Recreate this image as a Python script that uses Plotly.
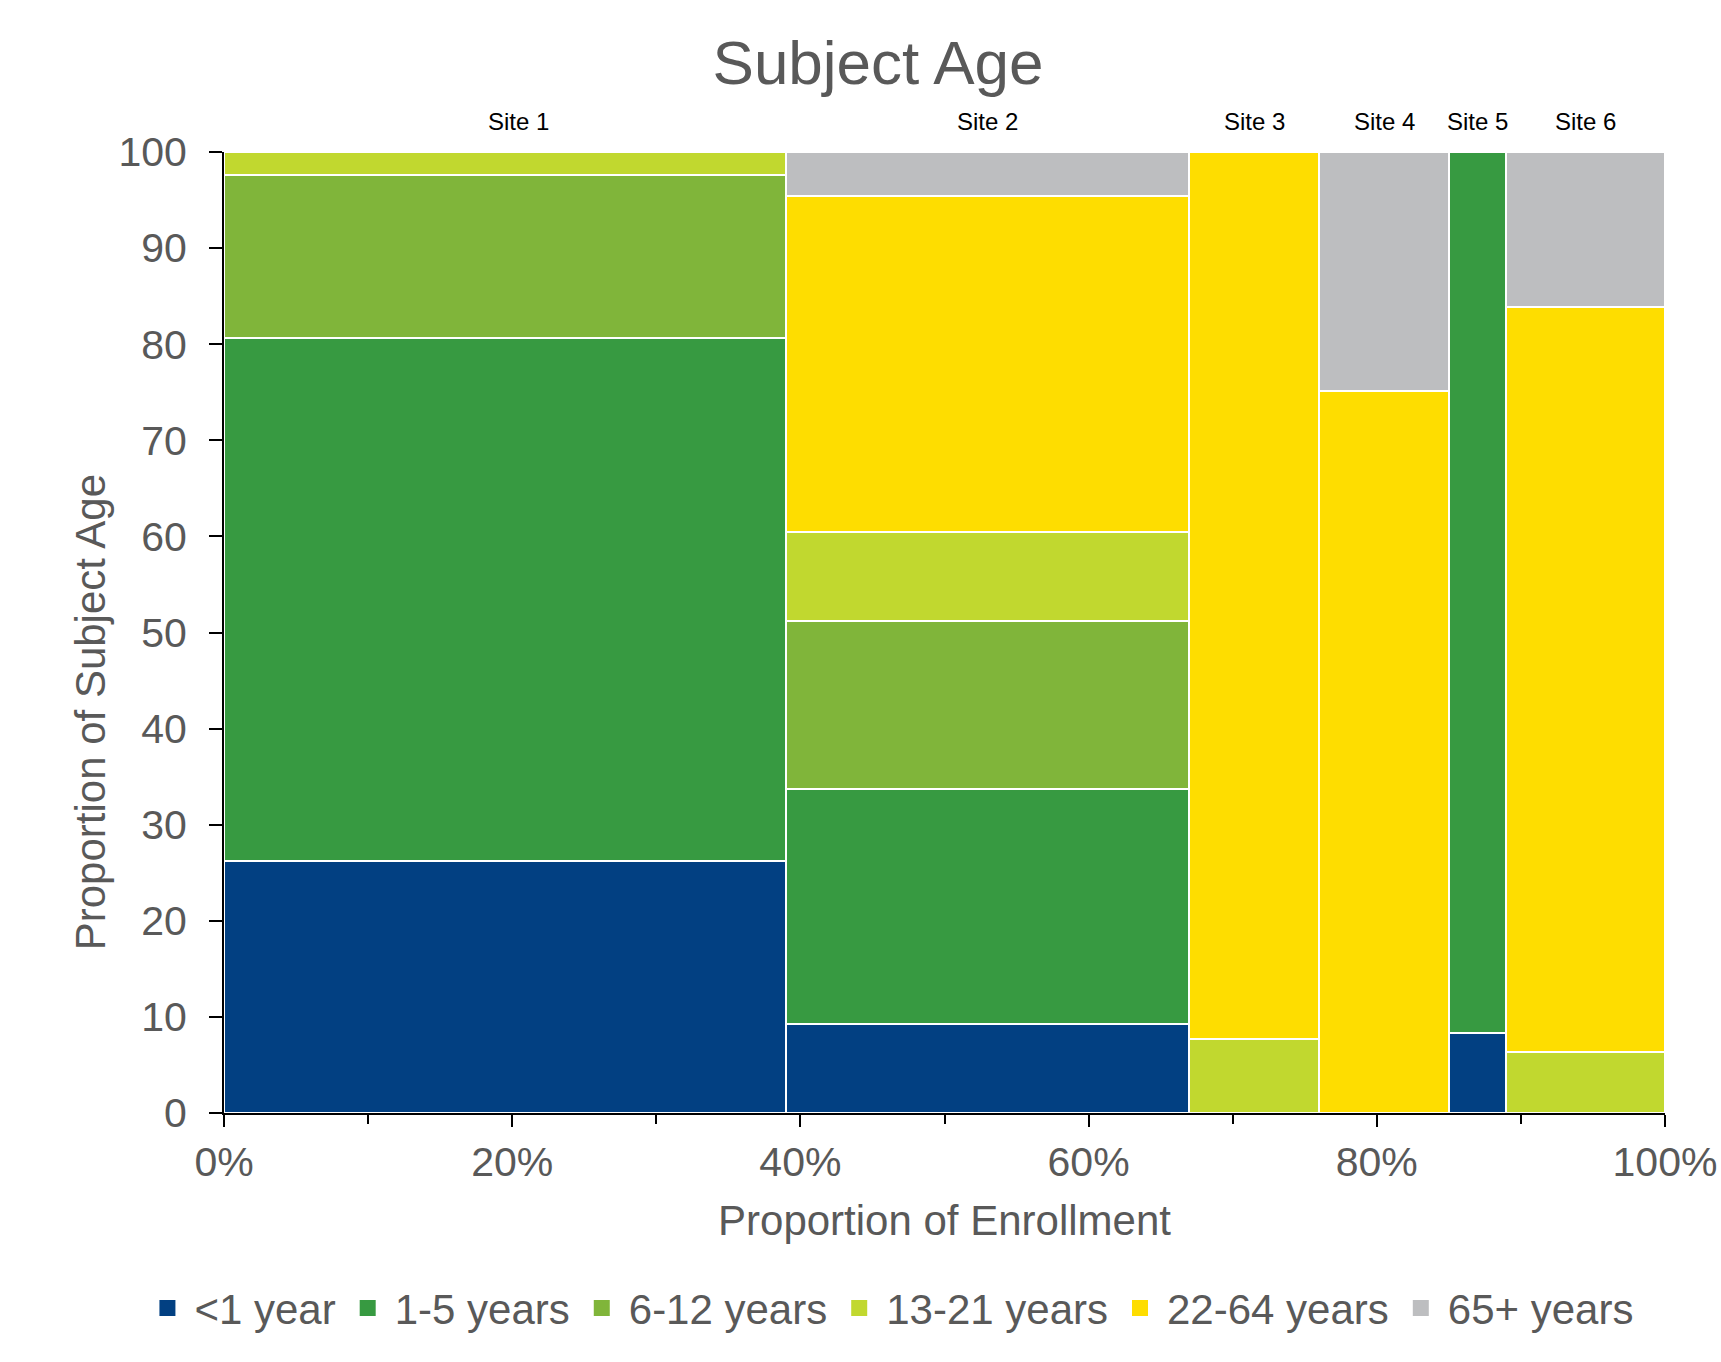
import plotly.graph_objects as go
import numpy as np

sites = ["Site 1", "Site 2", "Site 3", "Site 4", "Site 5", "Site 6"]
enrollment_pct = [39, 28, 9, 9, 4, 11]

age_groups = ["<1 year", "1-5 years", "6-12 years", "13-21 years", "22-64 years", "65+ years"]
lt1 = [26.2, 9.3, 0, 0, 8.3, 0]
y1_5 = [54.4, 24.4, 0, 0, 91.7, 0]
y6_12 = [17.0, 17.5, 0, 0, 0, 0]
y13_21 = [2.4, 9.3, 7.7, 0, 0, 6.4]
y22_64 = [0, 34.9, 92.3, 75.1, 0, 77.5]
y65p = [0, 4.6, 0, 24.9, 0, 16.1]
series = [lt1, y1_5, y6_12, y13_21, y22_64, y65p]
colors = ["#024082", "#379A41", "#80B53A", "#C1D82F", "#FEDD00", "#BDBEC0"]

x_ticks = [0, 20, 40, 60, 80, 100]
y_ticks = list(range(0, 101, 10))

widths = np.array(enrollment_pct, dtype=float)
right = np.cumsum(widths)
centers = right - widths / 2

FONT = "Liberation Sans, Arial, sans-serif"
GRAY = "#595959"
LABEL_XSHIFT = {"Site 1": 13}

fig = go.Figure()
for name, vals, col in zip(age_groups, series, colors):
    fig.add_trace(go.Bar(
        x=centers, y=vals, width=widths, name=name, legendgroup=name, showlegend=False,
        marker=dict(color=col, line=dict(color="white", width=2)),
    ))
# legend entries with larger square swatches
for name, col in zip(age_groups, colors):
    fig.add_trace(go.Scatter(
        x=[None], y=[None], mode="markers", name=name, legendgroup=name,
        marker=dict(symbol="square", size=18, color=col),
    ))

for s, c in zip(sites, centers):
    fig.add_annotation(x=c, y=1, xref="x", yref="paper", text=s, showarrow=False,
                       yanchor="middle", yshift=31, xshift=LABEL_XSHIFT.get(s, 0),
                       font=dict(family=FONT, size=24, color="black"))

fig.add_annotation(x=-0.093, y=0.417, xref="paper", yref="paper",
                   text="Proportion of Subject Age", textangle=-90, showarrow=False,
                   xanchor="center", yanchor="middle",
                   font=dict(family=FONT, size=42, color=GRAY))

fig.update_layout(
    width=1721, height=1362,
    barmode="stack", bargap=0,
    paper_bgcolor="white", plot_bgcolor="white",
    margin=dict(l=224, r=56, t=152, b=249, autoexpand=False),
    title=dict(text="Subject Age", x=878 / 1721, xanchor="center",
               y=1 - 62 / 1362, yanchor="middle",
               font=dict(family=FONT, size=62, color=GRAY)),
    font=dict(family=FONT, size=41, color=GRAY),
    legend=dict(orientation="h", x=-0.058, xanchor="left", y=-0.203, yanchor="middle",
                itemwidth=44,
                font=dict(family=FONT, size=42, color=GRAY), traceorder="normal"),
    xaxis=dict(range=[0, 100], tickvals=x_ticks, ticktext=[f"{v}%" for v in x_ticks],
               showgrid=False, zeroline=False, showline=True, linecolor="black", linewidth=2,
               ticks="outside", ticklen=12, tickwidth=2, tickcolor="black",
               minor=dict(dtick=10, ticks="outside", ticklen=9, tickwidth=1.5, tickcolor="black", showgrid=False),
               tickfont=dict(family=FONT, size=41, color=GRAY),
               title=dict(text="Proportion of Enrollment", standoff=21,
                          font=dict(family=FONT, size=42, color=GRAY))),
    yaxis=dict(range=[0, 100], tickvals=y_ticks,
               showgrid=False, zeroline=False, showline=True, linecolor="black", linewidth=2,
               ticks="outside", ticklen=13, tickwidth=2, tickcolor="black",
               ticklabelstandoff=14,
               tickfont=dict(family=FONT, size=41, color=GRAY)),
)

fig.write_html("out.html")
